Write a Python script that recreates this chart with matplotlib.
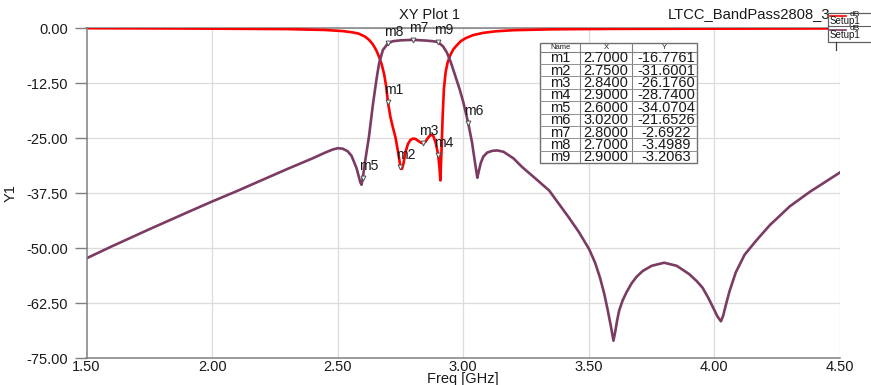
import matplotlib
matplotlib.use('Agg')
import matplotlib.pyplot as plt
from matplotlib.patches import Rectangle

plt.rcParams['font.family'] = ['Liberation Sans', 'DejaVu Sans']
plt.rcParams['axes.unicode_minus'] = False

# ---- Style ----
RED = '#FF0000'
PURPLE = '#7B3B63'
GRID = '#DCDCDC'
SPINE = '#808080'
INK = '#1A1A1A'

# ---- Data ----
freq_s11 = [1.50, 1.70, 1.90, 2.10, 2.30, 2.45, 2.52, 2.56, 2.585, 2.61,
            2.625, 2.64, 2.655, 2.665, 2.675, 2.685, 2.693, 2.70, 2.71, 2.72,
            2.73, 2.74, 2.75, 2.756, 2.762, 2.77, 2.78, 2.79, 2.80, 2.81,
            2.82, 2.83, 2.84, 2.85, 2.86, 2.87, 2.88, 2.89, 2.90, 2.905,
            2.909, 2.914, 2.918, 2.923, 2.93, 2.937, 2.948, 2.96, 2.97, 2.99,
            3.01, 3.04, 3.08, 3.13, 3.20, 3.35, 3.60, 4.00, 4.50]
s11 = [-0.05, -0.08, -0.12, -0.18, -0.25, -0.45, -0.7, -1.0, -1.3, -2.0,
       -2.7, -3.7, -5.2, -6.6, -8.2, -10.5, -13.2, -16.7761, -20.2, -22.6,
       -24.8, -28.0, -31.6001, -32.0, -30.8, -28.2, -26.3, -25.4, -25.1, -25.2,
       -25.6, -26.0, -26.176, -25.8, -24.9, -24.3, -24.4, -26.0, -28.74, -31.5,
       -34.6, -27.0, -20.0, -13.8, -10.0, -8.0, -6.2, -4.9, -4.2, -3.0,
       -2.3, -1.6, -1.1, -0.75, -0.5, -0.3, -0.2, -0.15, -0.1]

freq_s21 = [1.50, 1.60, 1.75, 1.90, 2.00, 2.10, 2.20, 2.30, 2.40, 2.45,
            2.48, 2.50, 2.52, 2.54, 2.555, 2.575, 2.59, 2.595, 2.60, 2.61,
            2.625, 2.64, 2.655, 2.665, 2.68, 2.70, 2.72, 2.75, 2.80, 2.85,
            2.88, 2.90, 2.92, 2.935, 2.95, 2.965, 2.985, 3.00, 3.02, 3.035,
            3.048, 3.056, 3.062, 3.07, 3.08, 3.095, 3.115, 3.135, 3.16, 3.20,
            3.235, 3.29, 3.342, 3.42, 3.46, 3.501, 3.525, 3.545, 3.562, 3.575,
            3.588, 3.598, 3.605, 3.613, 3.621, 3.635, 3.65, 3.67, 3.69, 3.714,
            3.75, 3.80, 3.85, 3.90, 3.93, 3.953, 3.975, 3.995, 4.012, 4.026,
            4.035, 4.045, 4.06, 4.085, 4.12, 4.166, 4.22, 4.30, 4.38, 4.44,
            4.50]
s21 = [-52.3, -49.6, -45.7, -41.9, -39.4, -37.0, -34.5, -32.0, -29.6, -28.3,
       -27.6, -27.3, -27.4, -28.0, -29.0, -31.8, -35.0, -35.6, -34.0704, -30.0,
       -24.5, -17.5, -11.5, -8.0, -5.0, -3.4989, -3.0, -2.8, -2.6922, -2.85,
       -3.0, -3.2063, -4.2, -5.6, -7.7, -10.3, -13.8, -16.8, -21.6526, -26.0,
       -31.0, -34.0, -32.5, -30.6, -29.2, -28.3, -27.9, -27.8, -28.1, -29.6,
       -31.6, -34.3, -36.9, -43.0, -46.3, -50.2, -53.3, -56.8, -60.5, -64.0,
       -67.8, -71.0, -69.0, -66.3, -64.1, -61.8, -60.0, -58.0, -56.5, -55.2,
       -54.0, -53.3, -54.0, -55.9, -57.5, -59.0, -61.2, -63.5, -65.5, -66.6,
       -65.3, -63.0, -59.8, -55.5, -51.5, -48.3, -44.8, -40.5, -37.2, -35.0,
       -32.8]

marker_names = ['m1', 'm2', 'm3', 'm4', 'm5', 'm6', 'm7', 'm8', 'm9']
marker_x = [2.70, 2.75, 2.84, 2.90, 2.60, 3.02, 2.80, 2.70, 2.90]
marker_y = [-16.7761, -31.6001, -26.1760, -28.7400, -34.0704, -21.6526,
            -2.6922, -3.4989, -3.2063]

yticks = [0.0, -12.5, -25.0, -37.5, -50.0, -62.5, -75.0]
xticks = [1.5, 2.0, 2.5, 3.0, 3.5, 4.0, 4.5]

# ---- Figure ----
W, H = 871, 385
fig = plt.figure(figsize=(W / 100, H / 100), dpi=100)
fig.patch.set_facecolor('white')
ax = fig.add_axes([86.5 / W, 1 - 358.3 / H, (840 - 86.5) / W, (358.3 - 28) / H])

ax.plot(freq_s11, s11, color=RED, lw=1.9, zorder=3, solid_joinstyle='round')
ax.plot(freq_s21, s21, color=PURPLE, lw=1.9, zorder=4, solid_joinstyle='round')

ax.plot(marker_x, marker_y, ls='none', marker='v', ms=3.5, mfc='white',
        mec='#505050', mew=0.7, zorder=5)
for name, mx, my in zip(marker_names, marker_x, marker_y):
    ax.annotate(name, (mx, my), xytext=(-3, 3.5), textcoords='offset points',
                ha='left', va='bottom', fontsize=10, color=INK, zorder=6)

ax.set_xlim(1.5, 4.5)
ax.set_ylim(-75, 0)
ax.set_xticks(xticks)
ax.set_xticklabels([f'{v:.2f}' for v in xticks])
ax.set_yticks(yticks)
ax.set_yticklabels([f'{v:.2f}' for v in yticks])
ax.grid(True, color=GRID, lw=0.9)
ax.set_axisbelow(True)
ax.spines['right'].set_visible(False)
for s in ['left', 'bottom', 'top']:
    ax.spines[s].set_color(SPINE)
    ax.spines[s].set_linewidth(1.1)
ax.spines['left'].set_zorder(5)
ax.tick_params(axis='y', length=8.6, width=1, color=SPINE, pad=4.5,
               labelsize=10.5, labelcolor=INK)
ax.tick_params(axis='x', length=0, pad=1.5, labelsize=10.5, labelcolor=INK)
ax.set_xlabel('Freq [GHz]', fontsize=10.5, color=INK)
ax.xaxis.set_label_coords(0.5, -(371.5 - 358.3) / (358.3 - 28))
ax.set_ylabel('Y1', fontsize=10.5, color=INK)
ax.yaxis.set_label_coords((18 - 86.5) / (840 - 86.5), 0.5)

fig.text(429 / W, 1 - 15 / H, 'XY Plot 1', ha='center', va='center',
         fontsize=10.5, color=INK)
fig.text(668 / W, 1 - 14 / H, 'LTCC_BandPass2808_3', ha='left',
         va='center', fontsize=10.6, color=INK)

# ---- Overlay in pixel coordinates: marker table and legend box ----
ov = fig.add_axes([0, 0, 1, 1], zorder=10)
ov.set_xlim(0, W)
ov.set_ylim(H, 0)
ov.set_axis_off()

tx0, tx1, tx2, tx3 = 540, 580, 632, 697
ty0, thead, row_h = 43.3, 51.7, 12.37
ty_end = thead + row_h * len(marker_names)
ov.add_patch(Rectangle((tx0, ty0), tx3 - tx0, ty_end - ty0, fc='white',
                       ec='#707070', lw=1.0))
for xc in (tx1, tx2):
    ov.plot([xc, xc], [ty0, ty_end], color='#808080', lw=0.8)
ov.plot([tx0, tx3], [thead, thead], color='#808080', lw=0.8)
for i in range(1, len(marker_names)):
    yy = thead + i * row_h
    ov.plot([tx0, tx3], [yy, yy], color='#909090', lw=0.7)
for lbl, xc in zip(['Name', 'X', 'Y'], [(tx0 + tx1) / 2, (tx1 + tx2) / 2,
                                       (tx2 + tx3) / 2]):
    ov.text(xc, (ty0 + thead) / 2, lbl, ha='center', va='center',
            fontsize=5.5, color=INK)
for i, (name, mx, my) in enumerate(zip(marker_names, marker_x, marker_y)):
    yc = thead + (i + 0.5) * row_h + 0.5
    ov.text((tx0 + tx1) / 2, yc, name, ha='center', va='center',
            fontsize=10.5, color=INK)
    ov.text((tx1 + tx2) / 2, yc, f'{mx:.4f}', ha='center', va='center',
            fontsize=10.5, color=INK)
    ov.text((tx2 + tx3) / 2 + 2, yc, f'{my:.4f}', ha='center', va='center',
            fontsize=10.5, color=INK)

# legend box (clipped by the figure edge, as in the source)
ov.add_patch(Rectangle((828, 12.7), 60, 29, fc='white', ec='#606060', lw=0.9,
                       clip_on=False))
ov.plot([828, 871], [26.2, 26.2], color='#606060', lw=0.8)
ov.plot([836, 836], [41.7, 50], color='#404040', lw=0.9)
for yl, col in [(15.5, RED), (29.5, PURPLE)]:
    ov.plot([829.5, 846], [yl, yl], color=col, lw=1.2)
    ov.text(850, yl - 1.5, 'dB', ha='left', va='center', fontsize=6,
            color=INK)
    ov.text(830, yl + 5.5, 'Setup1', ha='left', va='center', fontsize=7,
            color=INK)

fig.savefig('out.png', dpi=100, facecolor='white')
